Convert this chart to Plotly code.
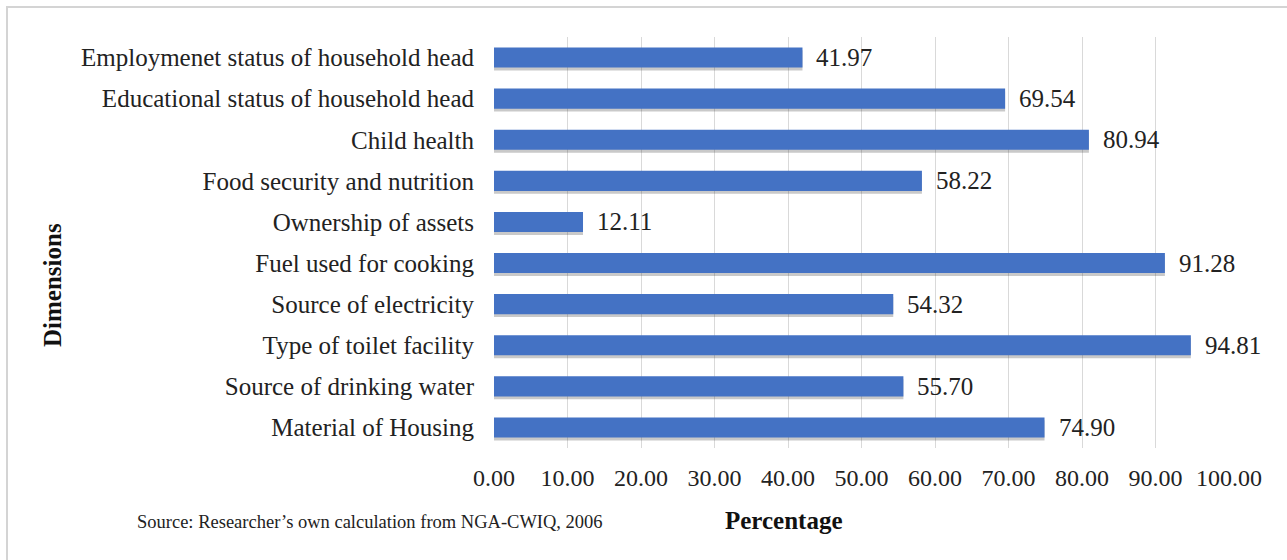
import plotly.graph_objects as go

categories = [
    "Employmenet status of household head",
    "Educational status of household head",
    "Child health",
    "Food security and nutrition",
    "Ownership of assets",
    "Fuel used for cooking",
    "Source of electricity",
    "Type of toilet facility",
    "Source of drinking water",
    "Material of Housing",
]
values = [41.97, 69.54, 80.94, 58.22, 12.11, 91.28, 54.32, 94.81, 55.70, 74.90]
x_ticks = [0, 10, 20, 30, 40, 50, 60, 70, 80, 90, 100]
x_tick_labels = [f"{v:.2f}" for v in x_ticks]

W, H = 1287, 560
L, R, T, B = 494, 58, 37, 112
pw, ph = W - L - R, H - T - B

def px(x):
    return (x - L) / pw

def py(y):
    return (H - B - y) / ph

FONT = "Liberation Serif, Times New Roman, serif"
BLUE = "#4472C4"
BAR_W = 0.49

fig = go.Figure()
# soft drop shadow beneath each bar
fig.add_trace(go.Bar(
    x=values, y=categories, orientation="h",
    marker=dict(color="rgba(60,60,60,0.28)", line=dict(width=0)),
    width=BAR_W, offset=-BAR_W / 2 + 0.07, hoverinfo="skip",
))
fig.add_trace(go.Bar(
    x=values, y=categories, orientation="h",
    marker=dict(color=BLUE, line=dict(width=0)),
    width=BAR_W, offset=-BAR_W / 2, hoverinfo="x+y",
))

annotations = []
for c, v in zip(categories, values):
    annotations.append(dict(
        x=v, y=c, xref="x", yref="y", text=f"{v:.2f}",
        showarrow=False, xanchor="left", xshift=12,
        font=dict(family=FONT, size=25, color="#222222"),
    ))
annotations.append(dict(
    x=px(784), y=py(520), xref="paper", yref="paper", text="<b>Percentage</b>",
    showarrow=False, xanchor="center", yanchor="middle",
    font=dict(family=FONT, size=25, color="#111111"),
))
annotations.append(dict(
    x=px(52), y=py(285), xref="paper", yref="paper", text="<b>Dimensions</b>",
    showarrow=False, xanchor="center", yanchor="middle", textangle=-90,
    font=dict(family=FONT, size=25, color="#111111"),
))
annotations.append(dict(
    x=px(135), y=py(522), xref="paper", yref="paper",
    text="Source: Researcher\u2019s own calculation from NGA-CWIQ, 2006",
    showarrow=False, xanchor="left", yanchor="middle",
    font=dict(family=FONT, size=18.5, color="#222222"),
))

fig.update_layout(
    width=W, height=H,
    margin=dict(l=L, r=R, t=T, b=B, pad=0),
    paper_bgcolor="white", plot_bgcolor="white",
    showlegend=False,
    barmode="overlay",
    annotations=annotations,
    shapes=[dict(
        type="rect", xref="paper", yref="paper",
        x0=px(7), x1=px(1300), y0=py(580), y1=py(7),
        line=dict(color="#d4d4d4", width=2), fillcolor="rgba(0,0,0,0)",
        layer="below",
    )],
    xaxis=dict(
        range=[0, 100], tickvals=x_ticks, ticktext=x_tick_labels,
        showgrid=True, gridcolor="#d9d9d9", gridwidth=1.3,
        zeroline=False, showline=False,
        ticks="outside", ticklen=8, tickcolor="rgba(0,0,0,0)",
        tickfont=dict(family=FONT, size=24, color="#222222"),
        fixedrange=True,
    ),
    yaxis=dict(
        categoryorder="array", categoryarray=categories, autorange="reversed",
        showgrid=False, zeroline=False, showline=False,
        ticks="outside", ticklen=14, tickcolor="rgba(0,0,0,0)",
        tickfont=dict(family=FONT, size=25, color="#222222"),
        fixedrange=True,
    ),
)

fig.write_html("out.html")
